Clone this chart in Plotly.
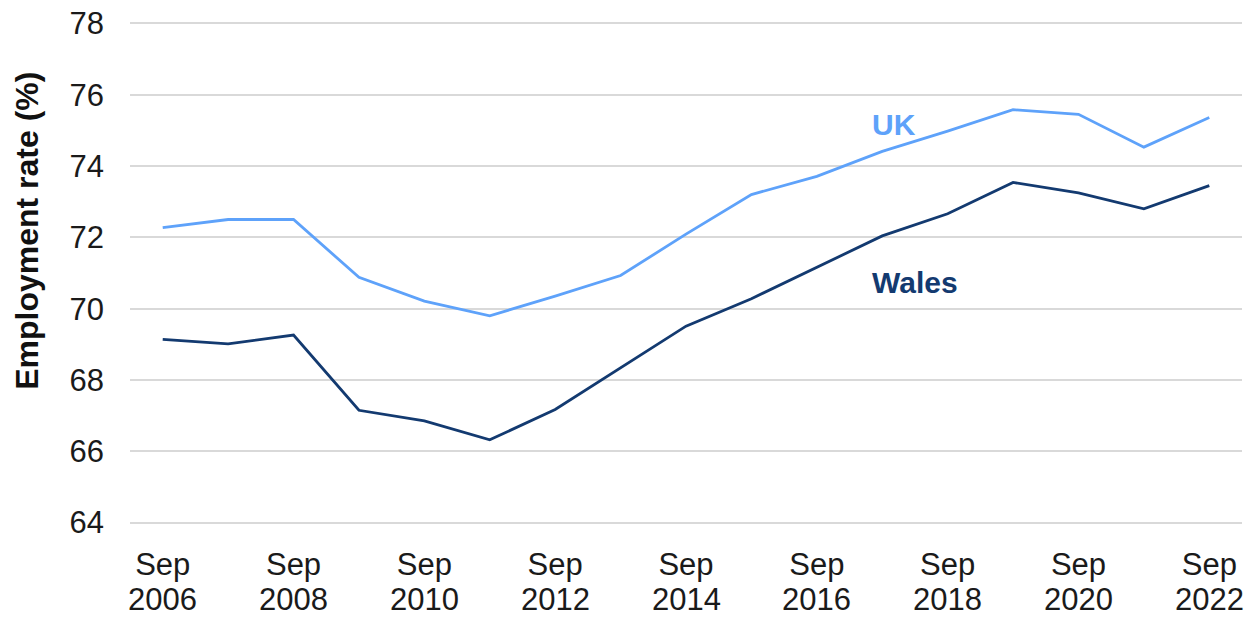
import plotly.graph_objects as go

years = list(range(2006, 2023))
uk = [72.27, 72.50, 72.50, 70.88, 70.21, 69.80, 70.35, 70.93, 72.09, 73.20, 73.71,
      74.41, 74.98, 75.58, 75.45, 74.53, 75.36]
wales = [69.14, 69.01, 69.26, 67.15, 66.85, 66.32, 67.17, 68.33, 69.51, 70.28, 71.16,
         72.04, 72.66, 73.54, 73.25, 72.80, 73.45]
tick_years = list(range(2006, 2023, 2))
tick_month = ["Sep"] * len(tick_years)
y_ticks = list(range(64, 79, 2))

UK_COLOR = "#5EA2FA"
WALES_COLOR = "#133A70"
FONT = "Liberation Sans, Arial, sans-serif"
TICK_FONT = dict(family=FONT, size=31, color="#1A1A1A")

fig = go.Figure()
fig.add_trace(go.Scatter(x=years, y=uk, mode="lines", name="UK",
                         line=dict(color=UK_COLOR, width=2.8)))
fig.add_trace(go.Scatter(x=years, y=wales, mode="lines", name="Wales",
                         line=dict(color=WALES_COLOR, width=2.8)))

fig.add_annotation(x=2017.18, y=75.16, text="<b>UK</b>", showarrow=False,
                   font=dict(family=FONT, size=30, color=UK_COLOR), xanchor="center")
fig.add_annotation(x=2017.5, y=70.72, text="<b>Wales</b>", showarrow=False,
                   font=dict(family=FONT, size=30, color=WALES_COLOR), xanchor="center")

# y-axis title (placed to match the reference's off-centre position)
fig.add_annotation(x=0, xref="paper", xshift=-103, xanchor="center",
                   y=0.584, yref="paper", yanchor="middle", textangle=-90,
                   text="<b>Employment rate (%)</b>", showarrow=False,
                   font=dict(family=FONT, size=32, color="#111111"))

# second row of x tick labels (years)
for yr in tick_years:
    fig.add_annotation(x=yr, xref="x", y=0, yref="paper", yanchor="top",
                       yshift=-56, text=str(yr), showarrow=False, font=TICK_FONT)

fig.update_layout(
    width=1255, height=618,
    margin=dict(l=130, r=13, t=22, b=94, autoexpand=False),
    paper_bgcolor="white", plot_bgcolor="white",
    showlegend=False,
    font=dict(family=FONT, size=31, color="#1A1A1A"),
)
fig.update_xaxes(
    range=[2005.5, 2022.5], tickmode="array", tickvals=tick_years, ticktext=tick_month,
    showgrid=False, zeroline=False, showline=False, ticks="", automargin=False,
    ticklabelstandoff=19, tickfont=TICK_FONT,
)
fig.update_yaxes(
    range=[63.96, 78.04], tickmode="array", tickvals=y_ticks, automargin=False,
    showgrid=True, gridcolor="#D9D9D9", gridwidth=1.5, zeroline=False, showline=False,
    ticks="", ticklabelstandoff=25, tickfont=TICK_FONT, ticklabeloverflow="allow",
)

fig.write_html("out.html", config={"displayModeBar": False},
               post_script="document.body.style.margin='0';document.body.style.overflow='hidden';")
